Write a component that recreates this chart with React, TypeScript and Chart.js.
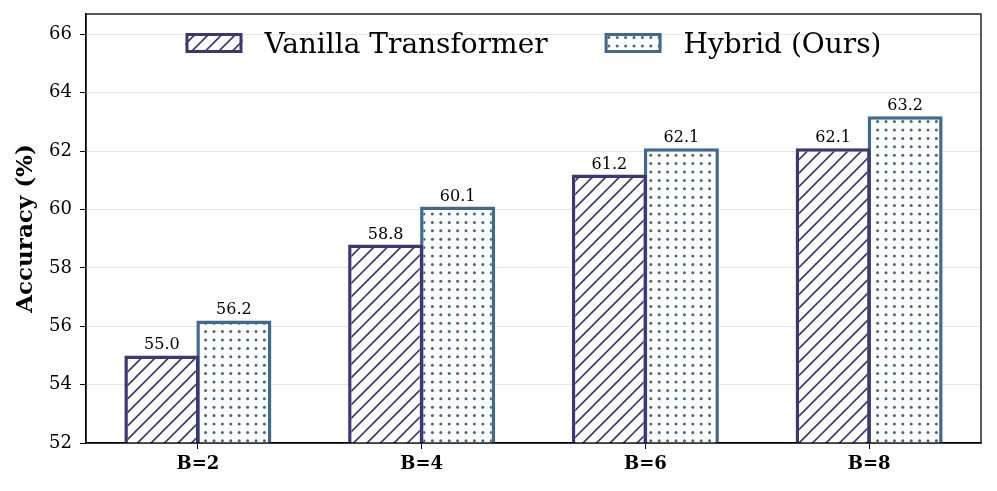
import React, { useEffect, useRef } from "react";
import { Chart, registerables } from "chart.js";

Chart.register(...registerables);

const categories = ["B=2", "B=4", "B=6", "B=8"];
const vanillaValues = [55.0, 58.8, 61.2, 62.1];
const hybridValues = [56.2, 60.1, 62.1, 63.2];
const seriesLabels = ["Vanilla Transformer", "Hybrid (Ours)"];
const yTicks = [52, 54, 56, 58, 60, 62, 64, 66];

const VANILLA_COLOR = "#3b3774";
const HYBRID_COLOR = "#3f6a8e";
const SERIF = "'DejaVu Serif', serif";

function hatchPattern(): CanvasPattern | string {
  const s = 13.5;
  const c = document.createElement("canvas");
  c.width = 27;
  c.height = 27;
  const g = c.getContext("2d");
  if (!g) return "#fff";
  g.fillStyle = "#ffffff";
  g.fillRect(0, 0, 27, 27);
  g.strokeStyle = VANILLA_COLOR;
  g.lineWidth = 1.6;
  g.beginPath();
  for (let k = -2; k <= 4; k++) {
    const o = k * s;
    g.moveTo(o - 27, 27 + 27);
    g.lineTo(o + 27 + 27, -27);
  }
  g.stroke();
  return g.createPattern(c, "repeat") || "#fff";
}

function dotPattern(): CanvasPattern | string {
  const s = 8.4;
  const c = document.createElement("canvas");
  c.width = 42;
  c.height = 42;
  const g = c.getContext("2d");
  if (!g) return "#fff";
  g.fillStyle = "#ffffff";
  g.fillRect(0, 0, 42, 42);
  g.fillStyle = HYBRID_COLOR;
  for (let i = 0; i < 5; i++) {
    for (let j = 0; j < 5; j++) {
      g.beginPath();
      g.arc(i * s + 4, j * s + 4, 1.5, 0, Math.PI * 2);
      g.fill();
    }
  }
  return g.createPattern(c, "repeat") || "#fff";
}

export default function App() {
  const ref = useRef<HTMLCanvasElement | null>(null);

  useEffect(() => {
    document.body.style.margin = "0";
    const canvas = ref.current;
    if (!canvas) return;
    const hatch = hatchPattern();
    const dots = dotPattern();

    const framePlugin = {
      id: "frame",
      afterDraw(chart: any) {
        const { ctx, chartArea } = chart;
        ctx.save();
        ctx.strokeStyle = "#000";
        ctx.lineWidth = 1.3;
        ctx.strokeRect(chartArea.left, chartArea.top, chartArea.right - chartArea.left, chartArea.bottom - chartArea.top);
        ctx.restore();
      },
    };

    const labelPlugin = {
      id: "valueLabels",
      afterDatasetsDraw(chart: any) {
        const { ctx } = chart;
        ctx.save();
        ctx.font = `16px ${SERIF}`;
        ctx.fillStyle = "#000";
        ctx.textAlign = "center";
        ctx.textBaseline = "alphabetic";
        chart.data.datasets.forEach((ds: any, di: number) => {
          const meta = chart.getDatasetMeta(di);
          meta.data.forEach((bar: any, i: number) => {
            ctx.fillText(Number(ds.data[i]).toFixed(1), bar.x, bar.y - 6);
          });
        });
        ctx.restore();
      },
    };

    const legendPlugin = {
      id: "customLegend",
      afterDraw(chart: any) {
        const { ctx, chartArea } = chart;
        const boxW = 57;
        const boxH = 20;
        const gap = 22;
        const itemGap = 57;
        ctx.save();
        ctx.font = `28px ${SERIF}`;
        const items = chart.data.datasets.map((ds: any) => ({
          label: ds.label,
          fill: ds.backgroundColor,
          stroke: ds.borderColor,
          w: ctx.measureText(ds.label).width,
        }));
        let total = 0;
        items.forEach((it: any, i: number) => {
          total += boxW + gap + it.w + (i < items.length - 1 ? itemGap : 0);
        });
        let x = (chartArea.left + chartArea.right) / 2 - total / 2;
        const cy = chartArea.top + 29;
        items.forEach((it: any) => {
          ctx.fillStyle = it.fill;
          ctx.fillRect(x, cy - boxH / 2, boxW, boxH);
          ctx.strokeStyle = it.stroke;
          ctx.lineWidth = 3;
          ctx.strokeRect(x + 1.5, cy - boxH / 2 + 1.5, boxW - 3, boxH - 3);
          ctx.fillStyle = "#000";
          ctx.textAlign = "left";
          ctx.textBaseline = "alphabetic";
          ctx.fillText(it.label, x + boxW + gap, cy + 10);
          x += boxW + gap + it.w + itemGap;
        });
        ctx.restore();
      },
    };

    const chart = new Chart(canvas, {
      type: "bar",
      data: {
        labels: categories,
        datasets: [
          {
            label: seriesLabels[0],
            data: vanillaValues,
            backgroundColor: hatch as any,
            borderColor: VANILLA_COLOR,
            borderWidth: 3.5,
            borderSkipped: false,
          },
          {
            label: seriesLabels[1],
            data: hybridValues,
            backgroundColor: dots as any,
            borderColor: HYBRID_COLOR,
            borderWidth: 3.5,
            borderSkipped: false,
          },
        ],
      },
      options: {
        responsive: false,
        animation: false,
        devicePixelRatio: 1,
        layout: { padding: { top: 14, right: 16, left: 0, bottom: 0 } },
        datasets: {
          bar: { categoryPercentage: 0.6436, barPercentage: 1.0417 },
        },
        plugins: {
          legend: { display: false },
          tooltip: { enabled: false },
        },
        scales: {
          x: {
            offset: true,
            grid: {
              offset: false,
              drawOnChartArea: false,
              drawTicks: true,
              tickLength: 6,
              tickColor: "#000",
            },
            border: { display: true, color: "#000", width: 1.3 },
            ticks: {
              color: "#000",
              padding: 5,
              font: { family: SERIF, size: 18, weight: "bold" },
            },
            afterFit(scale: any) {
              scale.height = 48;
            },
          },
          y: {
            min: 52,
            max: 66.7,
            grid: {
              color: "#e6e6e6",
              lineWidth: 1,
              drawTicks: true,
              tickLength: 6,
              tickColor: "#000",
            },
            border: { display: true, color: "#000", width: 1.3 },
            ticks: {
              color: "#000",
              padding: 8,
              font: { family: SERIF, size: 18 },
            },
            afterBuildTicks(scale: any) {
              scale.ticks = yTicks.map((v) => ({ value: v }));
            },
            title: {
              display: true,
              text: "Accuracy (%)",
              color: "#000",
              padding: { top: 12, bottom: 0 },
              font: { family: SERIF, size: 23, weight: "bold" },
            },
            afterFit(scale: any) {
              scale.width = 86;
              scale.paddingTop = 0;
              scale.paddingBottom = 0;
            },
          },
        },
      },
      plugins: [framePlugin, labelPlugin, legendPlugin],
    });

    return () => chart.destroy();
  }, []);

  return (
    <div style={{ width: 997, height: 491, background: "#fff" }}>
      <canvas ref={ref} width={997} height={491} style={{ display: "block" }} />
    </div>
  );
}
